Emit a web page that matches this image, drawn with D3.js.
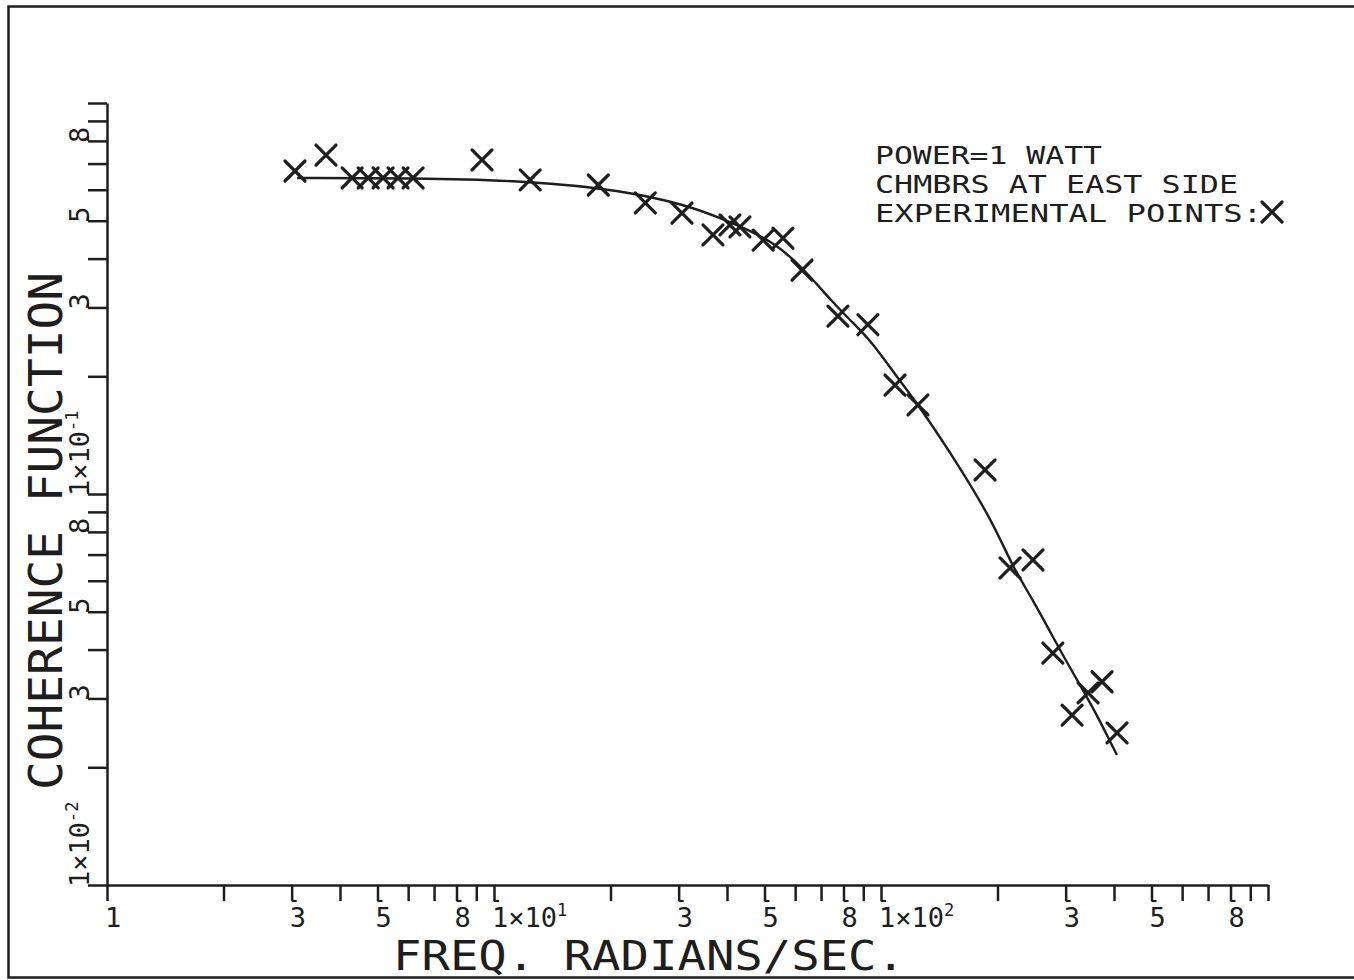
<!DOCTYPE html>
<html>
<head>
<meta charset="utf-8">
<script src="https://cdn.jsdelivr.net/npm/d3@7"></script>
<style>
  html, body { margin: 0; padding: 0; background: #fff; }
  svg { display: block; }
  text { font-family: "DejaVu Sans Mono", "Liberation Mono", monospace; fill: #1e1e1e; }
</style>
</head>
<body>
<svg id="chart" width="1354" height="980"></svg>
<script>
// ---- data ----
const xTickValues = [1,2,3,4,5,6,7,8,9,10,20,30,40,50,60,70,80,90,100,200,300,400,500,600,700,800,900,1000];
const xTickLabels = [
  {v: 1, base: "1", sup: ""}, {v: 3, base: "3", sup: ""}, {v: 5, base: "5", sup: ""}, {v: 8, base: "8", sup: ""},
  {v: 10, base: "1×10", sup: "1"}, {v: 30, base: "3", sup: ""}, {v: 50, base: "5", sup: ""}, {v: 80, base: "8", sup: ""},
  {v: 100, base: "1×10", sup: "2"}, {v: 300, base: "3", sup: ""}, {v: 500, base: "5", sup: ""}, {v: 800, base: "8", sup: ""}
];
const yTickValues = [0.01,0.02,0.03,0.04,0.05,0.06,0.07,0.08,0.09,0.1,0.2,0.3,0.4,0.5,0.6,0.7,0.8,0.9,1];
const yTickLabels = [
  {v: 0.01, base: "1×10", sup: "-2"}, {v: 0.03, base: "3", sup: ""}, {v: 0.05, base: "5", sup: ""}, {v: 0.08, base: "8", sup: ""},
  {v: 0.1, base: "1×10", sup: "-1"}, {v: 0.3, base: "3", sup: ""}, {v: 0.5, base: "5", sup: ""}, {v: 0.8, base: "8", sup: ""}
];
const pointFreq = [3.06, 3.68, 4.30, 4.73, 5.17, 5.65, 6.18, 9.31, 12.4, 18.6, 24.6, 30.6, 36.8, 40.7, 43.2, 49.6, 55.8, 62.5, 77.4, 92.5, 108.7, 124.6, 185.7, 215.5, 247, 278, 311.7, 342.8, 372.5, 407.3];
const pointCoh  = [0.670, 0.736, 0.643, 0.643, 0.643, 0.643, 0.643, 0.715, 0.636, 0.617, 0.555, 0.523, 0.460, 0.488, 0.482, 0.446, 0.451, 0.374, 0.285, 0.271, 0.190, 0.169, 0.1152, 0.0647, 0.0678, 0.0392, 0.0272, 0.0310, 0.0331, 0.0245];
const curveFreq = [3.1, 6.18, 12.4, 21.2, 31.5, 38.4, 46.7, 53.8, 62.5, 75.2, 84.7, 95.3, 110, 126, 160, 195, 219, 247, 278, 313, 353, 407];
const curveCoh  = [0.643, 0.643, 0.632, 0.599, 0.548, 0.508, 0.468, 0.433, 0.381, 0.308, 0.274, 0.243, 0.199, 0.167, 0.117, 0.0843, 0.0650, 0.0536, 0.0431, 0.0349, 0.0285, 0.0215];
const legendLines = ["POWER=1 WATT", "CHMBRS AT EAST SIDE", "EXPERIMENTAL POINTS:"];
const legendWidths = [227, 363, 387];
const xTitle = "FREQ. RADIANS/SEC.";
const yTitle = "COHERENCE FUNCTION";

// ---- layout ----
const ink = "#1e1e1e";
const svg = d3.select("#chart");
const x = d3.scaleLog().domain([1, 1000]).range([107, 1268]);
const y = d3.scaleLog().domain([0.01, 1]).range([885, 103]);

// outer frame (right edge falls outside the picture)
svg.append("path")
  .attr("d", "M1360,6.5H8.5V977.5H1360")
  .attr("fill", "none").attr("stroke", ink).attr("stroke-width", 2.5);

// axes
const xAxis = d3.axisBottom(x).tickValues(xTickValues).tickSize(16).tickSizeOuter(0).tickFormat("");
const yAxis = d3.axisLeft(y).tickValues(yTickValues).tickSize(19).tickSizeOuter(0).tickFormat("");
const gx = svg.append("g").attr("transform", "translate(0,885)").call(xAxis);
const gy = svg.append("g").attr("transform", "translate(107,0)").call(yAxis);
[gx, gy].forEach(g => {
  g.selectAll("path.domain").attr("stroke", ink).attr("stroke-width", 2.5);
  g.selectAll(".tick line").attr("stroke", ink).attr("stroke-width", 2.5);
});

// small pen hooks on labelled ticks
svg.append("g").selectAll("path").data(xTickLabels.filter(d => d.v !== 1)).join("path")
  .attr("d", d => `M${x(d.v)},${885 + 16}h5`)
  .attr("stroke", ink).attr("stroke-width", 2.2).attr("fill", "none");
svg.append("g").selectAll("path").data(yTickLabels.filter(d => d.v !== 0.01)).join("path")
  .attr("d", d => `M${107 - 19},${y(d.v)}v-5`)
  .attr("stroke", ink).attr("stroke-width", 2.2).attr("fill", "none");

// x tick labels
const xl = svg.append("g").selectAll("text").data(xTickLabels).join("text")
  .attr("x", d => x(d.v) - 2).attr("y", 927)
  .attr("font-size", 27).attr("text-anchor", "start");
xl.append("tspan").text(d => d.base);
xl.filter(d => d.sup).append("tspan").attr("dy", -11).attr("font-size", 17).text(d => d.sup);

// y tick labels (rotated)
const yl = svg.append("g").selectAll("text").data(yTickLabels).join("text")
  .attr("transform", d => `translate(89,${y(d.v) + 2}) rotate(-90)`)
  .attr("font-size", 27).attr("text-anchor", "start");
yl.append("tspan").text(d => d.base);
yl.filter(d => d.sup).append("tspan").attr("dy", -11).attr("font-size", 17).text(d => d.sup);

// axis titles
svg.append("text").attr("x", 393).attr("y", 970).attr("font-size", 41)
  .attr("textLength", 512).attr("lengthAdjust", "spacingAndGlyphs").text(xTitle);
svg.append("text").attr("transform", "translate(62,531) rotate(-90)").attr("font-size", 46)
  .attr("text-anchor", "middle").attr("textLength", 518).attr("lengthAdjust", "spacingAndGlyphs").text(yTitle);

// fitted curve
const line = d3.line().x(d => x(d[0])).y(d => y(d[1])).curve(d3.curveBasis);
svg.append("path").datum(curveFreq.map((f, i) => [f, curveCoh[i]]))
  .attr("d", line).attr("fill", "none").attr("stroke", ink).attr("stroke-width", 2.4);

// experimental points (X markers)
const s = 10;
const xMark = (cx, cy, r) => `M${cx - r},${cy - r}L${cx + r},${cy + r}M${cx + r},${cy - r}L${cx - r},${cy + r}`;
svg.append("g").selectAll("path").data(pointFreq.map((f, i) => [f, pointCoh[i]])).join("path")
  .attr("d", d => xMark(x(d[0]), y(d[1]), s))
  .attr("stroke", ink).attr("stroke-width", 3.2).attr("fill", "none").attr("stroke-linecap", "round");

// legend
const lg = svg.append("g");
lg.selectAll("text").data(legendLines).join("text")
  .attr("x", 875).attr("y", (d, i) => 164 + i * 29)
  .attr("font-size", 24.5)
  .attr("textLength", (d, i) => legendWidths[i]).attr("lengthAdjust", "spacingAndGlyphs")
  .text(d => d);
lg.append("path").attr("d", xMark(1272, 212, 10))
  .attr("stroke", ink).attr("stroke-width", 3.2).attr("fill", "none").attr("stroke-linecap", "round");
</script>
</body>
</html>
